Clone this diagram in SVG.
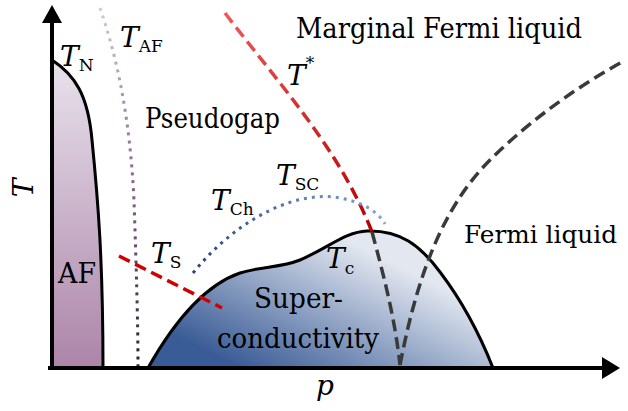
<svg xmlns="http://www.w3.org/2000/svg" width="628" height="411" viewBox="0 0 628 411">
<defs>
<linearGradient id="gAF" x1="0" y1="0" x2="0" y2="1">
<stop offset="0" stop-color="#e8e2ec"/>
<stop offset="1" stop-color="#ac84a8"/>
</linearGradient>
<linearGradient id="gSC" gradientUnits="userSpaceOnUse" x1="250" y1="372" x2="320" y2="228">
<stop offset="0" stop-color="#3a5c96"/>
<stop offset="1" stop-color="#e2e7f0"/>
</linearGradient>
<linearGradient id="gAFline" gradientUnits="userSpaceOnUse" x1="0" y1="8" x2="0" y2="366">
<stop offset="0" stop-color="#d0cad2"/>
<stop offset="0.45" stop-color="#8d6a92"/>
<stop offset="1" stop-color="#2a2432"/>
</linearGradient>
<linearGradient id="gTstar" gradientUnits="userSpaceOnUse" x1="225" y1="13" x2="372" y2="232">
<stop offset="0" stop-color="#ec5a5a"/>
<stop offset="1" stop-color="#b80000"/>
</linearGradient>
<linearGradient id="gSCline" gradientUnits="userSpaceOnUse" x1="193" y1="273" x2="385" y2="224">
<stop offset="0" stop-color="#23457a"/>
<stop offset="1" stop-color="#7fa2d2"/>
</linearGradient>
<style>
text{font-family:"DejaVu Serif","Liberation Serif",serif;fill:#000}
.lbl{font-size:27px}
.T{font-style:italic;font-size:28px}
.sub{font-style:normal;font-size:17px}
.dash{fill:none;stroke-width:3.5;stroke-dasharray:12 6}
.dot{fill:none;stroke-width:3;stroke-dasharray:3 5}
.edge{stroke:#000;stroke-width:3}
</style>
</defs>

<g id="af-region">
<path d="M52,60 C75,75 88,95 92,140 C98,200 103,260 103,368 L52,368 Z" fill="url(#gAF)" class="edge"/>
</g>

<g id="sc-dome">
<path d="M148,368 C175,320 205,285 240,273 C262,266 280,268 300,260 C330,247 345,232 367,231 C400,230 420,245 440,272 C465,305 480,335 493,368 Z" fill="url(#gSC)" class="edge"/>
</g>

<g id="connectors">
<path id="t-af" d="M100,8 C118,60 130,120 134,200 C136,260 138,320 138,366" class="dot" stroke="url(#gAFline)"/>
<path id="t-star" d="M225,13 C280,85 340,150 372,232" class="dash" stroke="url(#gTstar)"/>
<path id="t-star-low" d="M372,232 C385,280 395,320 400,365" class="dash" stroke="#3a3a3a"/>
<path id="fl-line" d="M400,365 C420,260 450,200 490,160 C530,120 580,85 622,62" class="dash" stroke="#3a3a3a"/>
<path id="t-sc" d="M193,273 C240,215 300,190 340,198 C365,203 378,212 385,224" class="dot" stroke="url(#gSCline)"/>
<path id="t-s" d="M119,256 L222,308" class="dash" stroke="#d00000"/>
</g>

<g id="axes">
<line x1="52" y1="368" x2="52" y2="20" stroke="#000" stroke-width="4"/>
<polygon points="52,5 62,23 42,23" fill="#000"/>
<line x1="48" y1="368" x2="604" y2="368" stroke="#000" stroke-width="4"/>
<polygon points="620,368 602,357 602,379" fill="#000"/>
</g>

<g id="labels">
<text class="lbl" x="296" y="38" textLength="286" lengthAdjust="spacingAndGlyphs">Marginal Fermi liquid</text>
<text class="lbl" x="145" y="128" textLength="135" lengthAdjust="spacingAndGlyphs">Pseudogap</text>
<text class="lbl" x="464" y="243" font-size="24" style="font-size:24px" textLength="153" lengthAdjust="spacingAndGlyphs">Fermi liquid</text>
<text class="lbl" x="58" y="283" textLength="38" lengthAdjust="spacingAndGlyphs">AF</text>
<text class="lbl" x="254" y="308" textLength="89" lengthAdjust="spacingAndGlyphs">Super-</text>
<text class="lbl" x="217" y="348" textLength="162" lengthAdjust="spacingAndGlyphs">conductivity</text>
<text class="T" x="60" y="66">T<tspan class="sub" dy="5">N</tspan></text>
<text class="T" x="120" y="47">T<tspan class="sub" dy="5">AF</tspan></text>
<text class="T" x="287" y="85">T<tspan class="sub" dy="-16" font-size="13">*</tspan></text>
<text class="T" x="211" y="210">T<tspan class="sub" dy="5">Ch</tspan></text>
<text class="T" x="276" y="185">T<tspan class="sub" dy="5">SC</tspan></text>
<text class="T" x="151" y="263">T<tspan class="sub" dy="5">S</tspan></text>
<text class="T" x="326" y="268">T<tspan class="sub" dy="6">c</tspan></text>
<text class="T" text-anchor="middle" transform="translate(33,188) rotate(-90)">T</text>
<text class="T" x="325" y="395" text-anchor="middle">p</text>
</g>
</svg>
